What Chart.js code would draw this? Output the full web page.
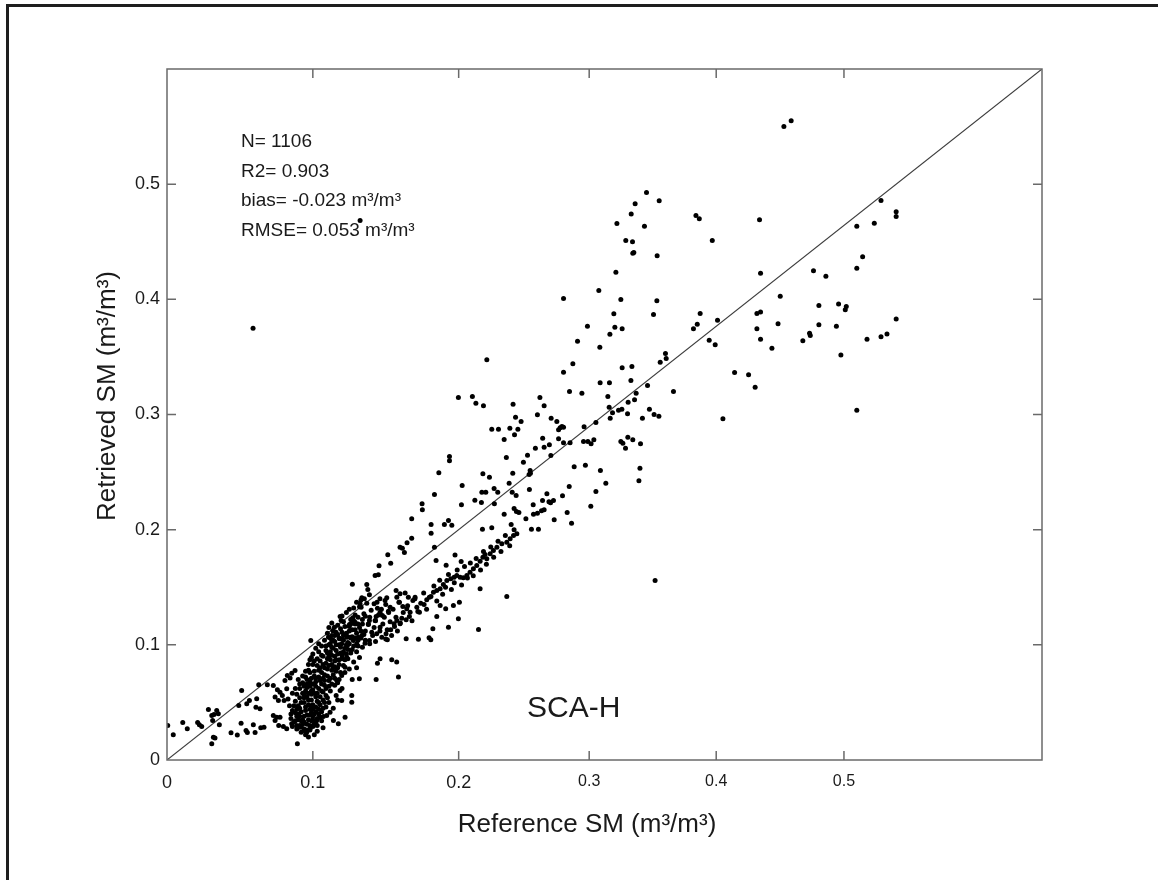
<!DOCTYPE html>
<html>
<head>
  <meta charset="utf-8">
  <title>Retrieved vs Reference SM (SCA-H)</title>
  <script src="https://cdn.jsdelivr.net/npm/chart.js"></script>
  <style>
    html, body { margin: 0; padding: 0; overflow: hidden; background: #fff; }
    .frame {
      position: absolute; left: 6px; top: 4px;
      width: 1200px; height: 920px;
      border-top: 3px solid #1e1e1e; border-left: 3px solid #1e1e1e;
    }
    #chart { position: absolute; left: 0; top: 0; }
  </style>
</head>
<body>
<div class="frame"></div>
<canvas id="chart" width="1158" height="880"></canvas>

<script>
  const FONT = '"Liberation Sans", Arial, Helvetica, sans-serif';

  // axis ticks (the 0.3-0.5 labels sit where the original figure put them)
  const xTickVals   = [0, 0.1, 0.2, 0.2895, 0.3766, 0.4642];
  const xTickLabels = ['0', '0.1', '0.2', '0.3', '0.4', '0.5'];
  const yTickVals   = [0, 0.1, 0.2, 0.3, 0.4, 0.5];
  const yTickLabels = ['0', '0.1', '0.2', '0.3', '0.4', '0.5'];

  const xTitle = 'Reference SM (m\u00b3/m\u00b3)';
  const yTitle = 'Retrieved SM (m\u00b3/m\u00b3)';
  const statLines = ['N= 1106', 'R2= 0.903', 'bias= -0.023 m\u00b3/m\u00b3', 'RMSE= 0.053 m\u00b3/m\u00b3'];
  const panelName = 'SCA-H';

  // 1:1 line
  const oneToOne = [[0, 0], [0.6, 0.6]];

  // [reference, retrieved] pairs
  const ptsLow = [
    [0.0005,0.030],[0.0043,0.022],[0.0108,0.0326],[0.0139,0.0271],[0.021,0.0326],[0.0222,0.0306],
    [0.0238,0.029],[0.0284,0.0438],[0.0307,0.0386],[0.0322,0.0395],[0.0341,0.043],[0.0352,0.0401],
    [0.0313,0.0343],[0.0359,0.0306],[0.0318,0.0198],[0.0329,0.019],[0.0307,0.0141],[0.0439,0.0236],
    [0.0482,0.0216],[0.0512,0.0603],[0.0508,0.032],[0.0542,0.0256],[0.0551,0.0239],[0.0592,0.0306],
    [0.0604,0.0239],[0.0643,0.028],[0.0665,0.0285],[0.0629,0.0653],[0.0688,0.0653],[0.0547,0.0488],
    [0.0565,0.0517],[0.0615,0.0531],[0.061,0.0458],[0.0638,0.0445],[0.0492,0.0473],[0.0894,0.0141]
  ];

  const ptsCore = [
    [0.0729,0.0647],[0.0757,0.0609],[0.0775,0.0589],[0.0741,0.0546],[0.0764,0.0517],[0.0791,0.056],
    [0.0809,0.069],[0.0825,0.0734],[0.0844,0.0713],[0.0855,0.0754],[0.0878,0.0777],[0.0821,0.0618],
    [0.0803,0.0517],[0.0729,0.0386],[0.0752,0.0372],[0.0775,0.0372],[0.0741,0.0343],[0.0766,0.0299],
    [0.0798,0.0291],[0.0821,0.0271],[0.0855,0.0314],[0.0889,0.0299],[0.0912,0.0285],[0.0939,0.0256],
    [0.0958,0.0241],[0.0981,0.0271],[0.1004,0.0299],[0.1026,0.0343],[0.105,0.0372],[0.1072,0.0378],
    [0.1095,0.0386],[0.1118,0.0415],[0.1141,0.0343],[0.1175,0.0314],[0.1221,0.0372],[0.1267,0.056],
    [0.1267,0.0502],[0.1198,0.0517],[0.1187,0.0603],[0.1164,0.069],[0.1198,0.0734],[0.1221,0.0806],
    [0.1232,0.0893],[0.1319,0.0705],[0.1434,0.0699],[0.1443,0.0841],[0.1461,0.0879],[0.1541,0.087],
    [0.1575,0.085],[0.1587,0.072],[0.0986,0.1038],
    [0.087,0.033],[0.089,0.038],[0.091,0.030],[0.092,0.042],[0.093,0.035],[0.094,0.027],[0.095,0.046],
    [0.096,0.031],[0.096,0.039],[0.097,0.052],[0.098,0.026],[0.098,0.044],[0.099,0.034],[0.100,0.029],
    [0.100,0.048],[0.101,0.040],[0.102,0.055],[0.102,0.033],[0.103,0.025],[0.104,0.044],[0.105,0.037],
    [0.090,0.047],[0.088,0.051],[0.091,0.054],[0.093,0.058],[0.095,0.022],[0.097,0.020],[0.092,0.024],
    [0.089,0.027],[0.086,0.043],[0.084,0.047],[0.085,0.036],[0.099,0.057],[0.101,0.022],[0.103,0.030],
    [0.104,0.050],[0.106,0.042],[0.107,0.028],[0.094,0.050],[0.096,0.055],[0.088,0.041],[0.090,0.035],
    [0.092,0.029],[0.099,0.041],[0.100,0.035],
    [0.091,0.062],[0.093,0.067],[0.094,0.057],[0.095,0.072],[0.096,0.063],[0.097,0.078],[0.098,0.068],
    [0.099,0.060],[0.100,0.083],[0.101,0.073],[0.102,0.064],[0.103,0.088],[0.103,0.058],[0.104,0.078],
    [0.105,0.069],[0.106,0.060],[0.106,0.091],[0.107,0.083],[0.108,0.074],[0.108,0.065],[0.109,0.056],
    [0.110,0.088],[0.110,0.079],[0.111,0.069],[0.112,0.094],[0.112,0.060],[0.113,0.083],[0.114,0.074],
    [0.115,0.065],[0.115,0.090],[0.116,0.056],[0.117,0.080],[0.118,0.070],[0.119,0.093],[0.120,0.062],
    [0.098,0.076],[0.101,0.086],[0.104,0.094],[0.107,0.052],[0.111,0.050],[0.114,0.045],[0.117,0.052],
    [0.109,0.046],[0.096,0.070],[0.100,0.066],[0.105,0.080],[0.109,0.084],[0.113,0.078],[0.116,0.087],
    [0.107,0.071],[0.102,0.071],[0.094,0.064],[0.099,0.089],
    [0.106,0.099],[0.108,0.104],[0.109,0.095],[0.110,0.110],[0.111,0.100],[0.112,0.106],[0.113,0.098],
    [0.114,0.112],[0.115,0.103],[0.116,0.095],[0.117,0.109],[0.118,0.100],[0.119,0.114],[0.120,0.091],
    [0.120,0.105],[0.121,0.082],[0.122,0.097],[0.123,0.110],[0.124,0.088],[0.124,0.102],[0.125,0.116],
    [0.126,0.093],[0.127,0.107],[0.128,0.085],[0.128,0.099],[0.129,0.113],[0.130,0.094],[0.131,0.104],
    [0.132,0.089],[0.133,0.112],[0.134,0.098],[0.122,0.076],[0.125,0.079],[0.127,0.070],[0.130,0.080],
    [0.118,0.087],[0.115,0.081],[0.121,0.120],[0.117,0.117],[0.111,0.115],[0.113,0.119],[0.126,0.122],
    [0.120,0.125],[0.123,0.128],[0.125,0.131],[0.127,0.120],[0.129,0.126],[0.131,0.118],[0.132,0.133],
    [0.134,0.122],[0.135,0.127],[0.136,0.112],[0.137,0.136],[0.138,0.118],[0.139,0.124],[0.140,0.130],
    [0.141,0.108],[0.142,0.115],[0.143,0.121],[0.144,0.137],[0.145,0.126],[0.146,0.112],[0.147,0.131],
    [0.148,0.118],[0.149,0.124],[0.150,0.135],[0.151,0.113],[0.152,0.128],[0.153,0.120],[0.155,0.131],
    [0.156,0.116],[0.157,0.124],[0.159,0.137],[0.160,0.119],[0.136,0.104],[0.139,0.101],[0.143,0.103],
    [0.133,0.139],[0.130,0.137],[0.128,0.132],[0.146,0.140],[0.154,0.108],[0.158,0.112],[0.150,0.105],
    [0.086,0.029],[0.088,0.034],[0.090,0.040],[0.091,0.045],[0.093,0.031],[0.094,0.038],[0.095,0.043],
    [0.096,0.026],[0.097,0.035],[0.097,0.048],[0.098,0.030],[0.099,0.052],[0.100,0.038],[0.100,0.044],
    [0.101,0.031],[0.101,0.058],[0.102,0.046],[0.103,0.036],[0.103,0.051],[0.104,0.040],[0.104,0.062],
    [0.105,0.048],[0.105,0.055],[0.106,0.034],[0.106,0.066],[0.107,0.045],[0.107,0.059],[0.108,0.050],
    [0.108,0.069],[0.109,0.062],[0.110,0.054],[0.110,0.073],[0.111,0.064],[0.111,0.082],[0.112,0.071],
    [0.112,0.087],[0.113,0.066],[0.113,0.091],[0.114,0.080],[0.114,0.097],[0.115,0.071],[0.115,0.086],
    [0.116,0.100],[0.116,0.077],[0.117,0.092],[0.117,0.067],[0.118,0.083],[0.118,0.106],[0.119,0.076],
    [0.119,0.098],[0.120,0.088],[0.120,0.111],[0.121,0.094],[0.121,0.104],[0.122,0.087],[0.122,0.116],
    [0.123,0.100],[0.123,0.092],[0.124,0.107],[0.124,0.096],[0.125,0.112],[0.125,0.101],[0.126,0.118],
    [0.126,0.106],[0.127,0.096],[0.127,0.113],[0.128,0.121],[0.129,0.106],[0.129,0.118],[0.130,0.110],
    [0.131,0.124],[0.131,0.099],[0.132,0.115],[0.133,0.106],[0.134,0.118],[0.135,0.109],[0.092,0.050],
    [0.094,0.054],[0.095,0.060],[0.096,0.066],[0.097,0.058],[0.098,0.064],[0.099,0.071],[0.100,0.061],
    [0.101,0.077],[0.102,0.068],[0.103,0.082],[0.104,0.072],[0.105,0.086],[0.106,0.076],[0.107,0.090],
    [0.108,0.080],[0.109,0.099],[0.110,0.093],[0.111,0.090],[0.112,0.101],[0.113,0.108],[0.114,0.104],
    [0.115,0.108],[0.089,0.044],[0.087,0.047],[0.085,0.040],[0.083,0.053],[0.086,0.058],[0.088,0.062],
    [0.089,0.057],[0.091,0.066],[0.090,0.070],[0.093,0.073],[0.095,0.077],[0.097,0.083],[0.098,0.087],
    [0.100,0.092],[0.102,0.097],[0.104,0.101],[0.091,0.038],[0.094,0.033],[0.098,0.039],[0.102,0.042],
    [0.099,0.047],[0.092,0.034]
  ];

  const ptsBand = [
    [0.1678,0.2094],[0.1749,0.2225],[0.1751,0.2172],[0.1811,0.1969],[0.1834,0.1848],[0.1678,0.1926],
    [0.1646,0.1886],[0.1598,0.1848],[0.1614,0.1839],[0.1628,0.1802],[0.1514,0.1782],[0.1534,0.1709],
    [0.1454,0.1686],[0.1427,0.1602],[0.1449,0.1608],[0.1271,0.1526],[0.137,0.1524],[0.1377,0.148],
    [0.1388,0.1434],[0.1336,0.1408],[0.1353,0.14],[0.1324,0.1356],[0.1331,0.1327],[0.142,0.1356],
    [0.1443,0.1318],[0.1495,0.1385],[0.1507,0.1408],[0.153,0.1327],[0.1518,0.1292],[0.1461,0.1283],
    [0.1477,0.1255],[0.1434,0.1246],[0.1427,0.1211],[0.1388,0.1211],[0.1381,0.1177],[0.136,0.1249],
    [0.1274,0.1235],[0.129,0.1197],[0.1251,0.1177],[0.1187,0.1246],[0.1194,0.1211],[0.1148,0.1153],
    [0.1137,0.1124],[0.1159,0.111],[0.1107,0.1066],[0.113,0.1038],
    [0.1182,0.1052],[0.121,0.1081],[0.1233,0.1066],[0.126,0.1066],[0.1198,0.1009],[0.1237,0.0994],
    [0.1278,0.1038],[0.1301,0.1009],[0.1312,0.1066],[0.1336,0.1081],[0.1358,0.1014],[0.1388,0.1038],
    [0.1404,0.111],[0.1438,0.1096],[0.1461,0.1153],[0.1473,0.1066],[0.1502,0.1096],[0.1511,0.1044],
    [0.1534,0.113],[0.1557,0.1183],[0.1576,0.1211],[0.1598,0.1183],[0.161,0.1231],[0.164,0.1217],
    [0.1662,0.1246],[0.1667,0.1283],[0.1644,0.1313],[0.1617,0.1333],[0.1594,0.137],[0.1576,0.1414],
    [0.1598,0.1443],[0.1571,0.1472],[0.1633,0.1449],[0.1655,0.1414],[0.1686,0.1385],[0.1701,0.1414],
    [0.1713,0.1327],[0.1731,0.1283],[0.1763,0.135],[0.1781,0.1391],[0.1799,0.1414],[0.1827,0.1457],
    [0.185,0.1472],[0.1873,0.1486],[0.1895,0.1524],[0.1919,0.1559],[0.1946,0.1573],[0.1969,0.1587],
    [0.1987,0.1602],[0.201,0.1587],[0.2032,0.1582],[0.2056,0.1602],[0.2078,0.1631],[0.2101,0.166],
    [0.2124,0.1689],[0.2147,0.1726],[0.2166,0.1761],[0.2181,0.1784],[0.2193,0.1747],[0.2216,0.179],
    [0.2238,0.1819],[0.2262,0.1848],[0.2296,0.1877],[0.233,0.1891],[0.2353,0.1921],[0.2376,0.1949],
    [0.2399,0.1964],
    [0.1873,0.1341],[0.1964,0.1341],[0.2005,0.137],[0.2147,0.1486],[0.233,0.142],[0.2136,0.1133],
    [0.1998,0.1226],[0.193,0.1153],[0.1823,0.1139],[0.1797,0.1061],[0.1809,0.1044],[0.1724,0.1049],
    [0.164,0.1052],[0.185,0.1246],[0.1911,0.1313],
    [0.162,0.128],[0.165,0.134],[0.168,0.121],[0.170,0.140],[0.172,0.129],[0.174,0.136],[0.176,0.145],
    [0.178,0.131],[0.181,0.142],[0.183,0.151],[0.185,0.138],[0.187,0.156],[0.189,0.144],[0.191,0.150],
    [0.193,0.161],[0.195,0.148],[0.197,0.154],[0.199,0.165],[0.202,0.152],[0.204,0.168],[0.206,0.158],
    [0.208,0.171],[0.210,0.160],[0.212,0.175],[0.215,0.165],[0.217,0.181],[0.219,0.170],[0.222,0.185],
    [0.224,0.176],[0.227,0.190],[0.229,0.181],[0.232,0.195],[0.235,0.186],[0.238,0.200],
    [0.1845,0.1732],[0.1914,0.169],[0.2017,0.1724],[0.1975,0.178]
  ];

  const ptsMid = [
    [0.2193,0.3475],[0.1998,0.3148],[0.2094,0.3156],[0.2118,0.3098],[0.217,0.3075],[0.2373,0.3089],
    [0.2557,0.3148],[0.2586,0.3075],[0.239,0.2977],[0.2428,0.2939],[0.2406,0.2873],[0.2351,0.2881],
    [0.2227,0.2873],[0.2273,0.2873],[0.2383,0.2824],[0.2312,0.2783],[0.254,0.2997],[0.2634,0.2968],
    [0.2673,0.2939],[0.2685,0.2867],[0.2696,0.2884],[0.2708,0.2896],[0.2719,0.289],[0.2685,0.2789],
    [0.2719,0.2754],[0.2764,0.2754],[0.286,0.2893],[0.2941,0.293],[0.2856,0.2765],[0.2886,0.2765],
    [0.2908,0.2745],[0.2927,0.278],[0.3112,0.2765],[0.3126,0.2751],[0.3144,0.2707],[0.316,0.2803],
    [0.3194,0.278],[0.3247,0.2745],[0.3243,0.2534],[0.3236,0.2424],[0.2576,0.2794],[0.2586,0.2716],
    [0.2622,0.2737],[0.2632,0.2644],[0.2526,0.2707],[0.2472,0.2647],[0.2444,0.2586],[0.2327,0.2627],
    [0.249,0.2514],[0.2492,0.249],[0.2483,0.2479],[0.2371,0.249],[0.2211,0.2456],[0.2166,0.2485],
    [0.2024,0.2383],[0.1864,0.2494],[0.1937,0.2635],[0.1937,0.2598],[0.1834,0.2305],[0.2243,0.2357],
    [0.2268,0.2325],[0.2159,0.2325],[0.2186,0.2325],[0.2346,0.2403],[0.2367,0.2325],[0.2394,0.2297],
    [0.2485,0.2348],[0.2605,0.2311],[0.2619,0.2242],[0.263,0.2233],[0.265,0.2253],[0.2575,0.2253],
    [0.2586,0.2173],[0.2511,0.2216],[0.2712,0.2294],[0.2758,0.2375],[0.2792,0.2546],[0.2869,0.256],
    [0.2972,0.2514],[0.3009,0.2403],[0.2941,0.2331],[0.2906,0.2204],[0.2744,0.2149],[0.2774,0.2056],
    [0.2655,0.2086],[0.2568,0.2164],[0.2513,0.2134],[0.254,0.2143],[0.2461,0.2094],[0.2413,0.2149],
    [0.238,0.2184],[0.2396,0.2158],[0.2312,0.2134],[0.236,0.2045],[0.2499,0.2004],[0.2547,0.2004],
    [0.2245,0.2224],[0.2156,0.2236],[0.2111,0.2256],[0.2019,0.2216],[0.2163,0.2004],[0.2227,0.2016],
    [0.193,0.208],[0.1902,0.2045],[0.1953,0.2039],[0.1811,0.2045]
  ];

  const ptsUpper = [
    [0.3288,0.4928],[0.3375,0.4855],[0.321,0.483],[0.3183,0.474],[0.3085,0.4658],[0.3274,0.4635],
    [0.3627,0.4728],[0.365,0.470],[0.4063,0.469],[0.3739,0.451],[0.3146,0.451],[0.3192,0.450],
    [0.3194,0.440],[0.3201,0.4406],[0.3361,0.4378],[0.3078,0.4236],[0.2961,0.4077],[0.2719,0.4007],
    [0.3112,0.3998],[0.3359,0.3987],[0.3064,0.3874],[0.3336,0.3868],[0.3656,0.3877],[0.4045,0.3877],
    [0.2883,0.3767],[0.3071,0.3758],[0.3121,0.3744],[0.3037,0.3697],[0.361,0.3744],[0.3636,0.3784],
    [0.3775,0.3819],[0.4045,0.3744],[0.2815,0.3636],[0.2968,0.3584],[0.3718,0.3645],[0.3759,0.3605],
    [0.2783,0.344],[0.2719,0.3367],[0.3418,0.353],[0.3423,0.3486],[0.3382,0.3454],[0.3121,0.3405],
    [0.3188,0.3417],[0.3181,0.3295],[0.3034,0.3275],[0.297,0.3275],[0.276,0.320],[0.2845,0.3185],
    [0.3217,0.3185],[0.3295,0.3252],[0.3473,0.320],[0.3023,0.3156],[0.3206,0.3128],[0.3162,0.3107],
    [0.3032,0.3063],[0.3119,0.3046],[0.3096,0.3037],[0.3055,0.3015],[0.3158,0.3006],[0.3308,0.3046],
    [0.334,0.300],[0.3373,0.2985],[0.326,0.2968],[0.3039,0.2968],[0.3892,0.3365],[0.3988,0.3345],
    [0.4033,0.3237],[0.3812,0.2963]
  ];

  const ptsHigh = [
    [0.423,0.550],[0.428,0.555],[0.4896,0.4858],[0.500,0.476],[0.500,0.472],[0.473,0.4635],
    [0.485,0.466],[0.477,0.437],[0.473,0.427],[0.407,0.4227],[0.4433,0.4248],[0.4518,0.420],
    [0.4205,0.4027],[0.407,0.389],[0.447,0.3946],[0.4605,0.396],[0.4658,0.3938],[0.4651,0.391],
    [0.419,0.3787],[0.447,0.378],[0.459,0.3767],[0.4406,0.3706],[0.4411,0.3686],[0.436,0.364],
    [0.407,0.3654],[0.4148,0.3576],[0.4621,0.3516],[0.480,0.3654],[0.4896,0.3675],[0.4937,0.370],
    [0.500,0.383],[0.473,0.3037]
  ];

  const ptsStray = [[0.059,0.375],[0.1324,0.4684],[0.3347,0.1558]];

  const toXY = arr => arr.map(([x, y]) => ({x, y}));
  const allPts = [].concat(ptsLow, ptsCore, ptsBand, ptsMid, ptsUpper, ptsHigh, ptsStray);

  // box + inward tick marks on all four sides
  const frameTicks = {
    id: 'frameTicks',
    afterDatasetsDraw(chart) {
      const {ctx, chartArea: a, scales: {x, y}} = chart;
      ctx.save();
      ctx.strokeStyle = '#6a6a6a';
      ctx.lineWidth = 1.5;
      ctx.strokeRect(a.left, a.top, a.right - a.left, a.bottom - a.top);
      ctx.beginPath();
      x.ticks.forEach(t => {
        const px = x.getPixelForValue(t.value);
        if (px < a.left + 2) return;
        ctx.moveTo(px, a.bottom); ctx.lineTo(px, a.bottom - 9);
        ctx.moveTo(px, a.top);    ctx.lineTo(px, a.top + 9);
      });
      y.ticks.forEach(t => {
        const py = y.getPixelForValue(t.value);
        if (py > a.bottom - 2) return;
        ctx.moveTo(a.left, py);  ctx.lineTo(a.left + 9, py);
        ctx.moveTo(a.right, py); ctx.lineTo(a.right - 9, py);
      });
      ctx.stroke();
      ctx.restore();
    }
  };

  // axis titles, statistics and panel name
  const texts = {
    id: 'texts',
    afterDraw(chart) {
      const {ctx, chartArea: a} = chart;
      ctx.save();
      ctx.fillStyle = '#1a1a1a';
      ctx.textBaseline = 'alphabetic';
      ctx.font = '19px ' + FONT;
      ctx.textAlign = 'left';
      statLines.forEach((s, i) => ctx.fillText(s, a.left + 74, a.top + 78 + i * 29.7));
      ctx.font = '30px ' + FONT;
      ctx.fillText(panelName, a.left + 360, a.top + 648);

      ctx.font = '26px ' + FONT;
      ctx.textAlign = 'center';
      ctx.fillText(xTitle, 587, 832);
      ctx.translate(115, 396);
      ctx.rotate(-Math.PI / 2);
      ctx.fillText(yTitle, 0, 0);
      ctx.restore();
    }
  };

  new Chart(document.getElementById('chart').getContext('2d'), {
    type: 'scatter',
    data: {
      datasets: [
        { data: toXY(allPts), backgroundColor: '#000', borderWidth: 0, pointRadius: 2.5, order: 1 },
        { data: toXY(oneToOne), showLine: true, borderColor: '#3c3c3c', borderWidth: 1.1, pointRadius: 0, order: 2 }
      ]
    },
    options: {
      responsive: false,
      animation: false,
      events: [],
      layout: { padding: { top: 69, right: 116, left: 0, bottom: 0 } },
      plugins: { legend: { display: false }, tooltip: { enabled: false } },
      scales: {
        x: {
          type: 'linear', min: 0, max: 0.6,
          afterBuildTicks: s => { s.ticks = xTickVals.map(v => ({ value: v })); },
          afterFit: s => { s.height = 120; },
          grid: { display: false, drawTicks: false },
          border: { display: false },
          ticks: {
            autoSkip: false, maxRotation: 0, padding: 12, color: '#1a1a1a',
            font: c => ({ family: FONT, size: c.index >= 3 ? 16 : 18 }),
            callback: (v, i) => xTickLabels[i]
          }
        },
        y: {
          type: 'linear', min: 0, max: 0.6,
          afterBuildTicks: s => { s.ticks = yTickVals.map(v => ({ value: v })); },
          afterFit: s => { s.width = 167; },
          grid: { display: false, drawTicks: false },
          border: { display: false },
          ticks: {
            autoSkip: false, padding: 7, color: '#1a1a1a',
            font: { family: FONT, size: 18 },
            callback: (v, i) => yTickLabels[i]
          }
        }
      }
    },
    plugins: [frameTicks, texts]
  });
</script>
</body>
</html>
